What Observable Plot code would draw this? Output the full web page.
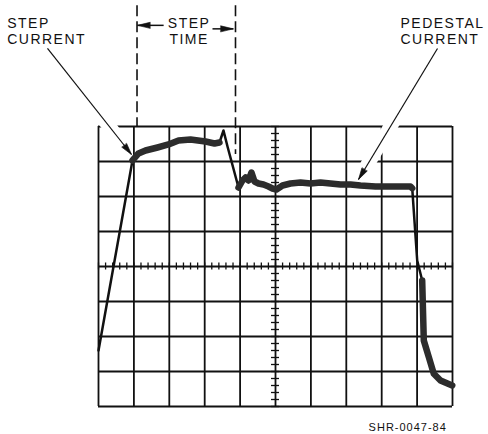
<!DOCTYPE html>
<html><head><meta charset="utf-8">
<script src="https://cdn.jsdelivr.net/npm/d3@7"></script>
<script src="https://cdn.jsdelivr.net/npm/@observablehq/plot@0.6"></script>
<style>
html,body{margin:0;padding:0;background:#fff;}
#chart svg text.lbl{letter-spacing:1.5px;}
#chart svg text.cap{letter-spacing:1px;}
</style></head><body><div id="chart"></div>
<script>
// Oscilloscope trace, in screen divisions (10 x 8)
const traceX = [0, 0.960, 1.130, 1.328, 1.667, 1.977, 2.260, 2.599, 3.023, 3.277, 3.418, 3.531, 3.644,
  3.955, 4.068, 4.153, 4.237, 4.322, 4.407, 4.520, 4.661, 4.802, 4.915, 5.028, 5.198, 5.424, 5.706,
  5.989, 6.271, 6.554, 6.836, 7.119, 7.401, 7.825, 8.249, 8.814, 8.862, 9.003, 9.144, 9.189, 9.331,
  9.472, 9.661, 9.992];
const traceY = [1.60, 7.029, 7.229, 7.314, 7.400, 7.486, 7.600, 7.629, 7.571, 7.514, 7.543, 7.886, 7.429,
  6.257, 6.457, 6.543, 6.457, 6.686, 6.429, 6.371, 6.343, 6.286, 6.229, 6.200, 6.314, 6.371, 6.400,
  6.371, 6.400, 6.371, 6.343, 6.343, 6.314, 6.286, 6.286, 6.286, 6.237, 4.171, 3.600, 1.886, 1.409,
  0.934, 0.743, 0.600];

const gridCols = [0, 1, 2, 3, 4, 5, 6, 7, 8, 9, 10];
const gridRows = [0, 1, 2, 3, 4, 5, 6, 7, 8];

const labelText = ["STEP\nCURRENT", "STEP\nTIME", "PEDESTAL\nCURRENT"];
const labelX = [-2.58, 2.56, 8.53];
const labelY = [11.13, 11.13, 11.13];

const leaderX1 = [-1.441, 9.576];
const leaderY1 = [10.229, 10.229];
const leaderX2 = [0.932, 7.345];
const leaderY2 = [7.200, 6.486];

const spanX1 = [1.84, 3.22];
const spanX2 = [1.10, 3.81];
const spanY = [10.89, 10.79];

const dashX = [1.088, 3.87];
const dashTop = [11.45, 11.45];
const dashBottom = [8.0, 7.2];

const captionText = "SHR-0047-84";
const captionX = 7.63, captionY = -0.486;

// ---- layout
const W = 488, H = 434, ML = 98, MR = 36, MT = 126, MB = 28;
const sx = (W - ML - MR) / 10, sy = (H - MT - MB) / 8;

const trace = traceX.map((x, i) => ({x, y: traceY[i]}));
const thickRanges = [[0.95, 3.43], [3.95, 8.87], [9.14, 10.01]];
const thick = [];
thickRanges.forEach((r, k) => trace.forEach(d => { if (d.x >= r[0] && d.x <= r[1]) thick.push({...d, seg: k}); }));

const leaders = leaderX1.map((x1, i) => ({x1, y1: leaderY1[i], x2: leaderX2[i], y2: leaderY2[i]}));
const haloFrac = [0.8, 0.9];
const halos = leaders.map((d, i) => ({x1: d.x1, y1: d.y1,
  x2: d.x1 + (d.x2 - d.x1) * haloFrac[i], y2: d.y1 + (d.y2 - d.y1) * haloFrac[i]}));
const spans = spanX1.map((x1, i) => ({x1, y1: spanY[i], x2: spanX2[i], y2: spanY[i]}));
const angle = d => Math.atan2((d.x2 - d.x1) * sx, (d.y2 - d.y1) * sy) * 180 / Math.PI;
const heads = [
  ...leaders.map(d => ({x: d.x2, y: d.y2, rotate: angle(d), length: 11})),
  ...spans.map(d => ({x: d.x2, y: d.y2, rotate: angle(d), length: 12}))
];
const dashes = dashX.map((x, i) => ({x, y1: dashTop[i], y2: dashBottom[i]}));
const labels = labelText.map((t, i) => ({text: t, x: labelX[i], y: labelY[i]}));

const minorX = d3.range(0, 10.001, 0.2);
const minorY = d3.range(0, 8.001, 0.2);
const tx = 4 / sx, ty = 3.5 / sy;

const spike = {
  draw(context, l, r) {
    context.moveTo(-r, 0);
    context.lineTo(0, -l);
    context.lineTo(r, 0);
    context.closePath();
  }
};

const ink = "#111";
const chart = Plot.plot({
  width: W, height: H,
  marginLeft: ML, marginRight: MR, marginTop: MT, marginBottom: MB,
  x: {domain: [0, 10], axis: null},
  y: {domain: [0, 8], axis: null},
  style: {background: "#fff", color: ink, fontFamily: "'Liberation Sans', Arial, Helvetica, sans-serif"},
  marks: [
    Plot.ruleX(gridCols, {x: d => d, y1: 0, y2: 8, stroke: ink, strokeWidth: 1.8}),
    Plot.ruleY(gridRows, {y: d => d, x1: 0, x2: 10, stroke: ink, strokeWidth: 1.8}),
    Plot.ruleX(minorX, {x: d => d, y1: 4 - ty, y2: 4 + ty, stroke: ink, strokeWidth: 1.3}),
    Plot.ruleY(minorY, {y: d => d, x1: 5 - tx, x2: 5 + tx, stroke: ink, strokeWidth: 1.3}),
    Plot.link(halos, {x1: "x1", y1: "y1", x2: "x2", y2: "y2", stroke: "#fff", strokeWidth: 14}),
    Plot.line(trace, {x: "x", y: "y", stroke: ink, strokeWidth: 2.5, strokeLinejoin: "round"}),
    Plot.line(thick, {x: "x", y: "y", z: "seg", stroke: "#2c2c2c", strokeWidth: 6.5, strokeLinejoin: "round", strokeLinecap: "round"}),
    Plot.ruleX(dashes, {x: "x", y1: "y1", y2: "y2", stroke: ink, strokeWidth: 1.6, strokeDasharray: "11,5"}),
    Plot.link(leaders, {x1: "x1", y1: "y1", x2: "x2", y2: "y2", stroke: ink, strokeWidth: 1.2}),
    Plot.link(spans, {x1: "x1", y1: "y1", x2: "x2", y2: "y2", stroke: ink, strokeWidth: 1.5}),
    Plot.vector(heads, {x: "x", y: "y", rotate: "rotate", length: "length", r: 3, anchor: "end", shape: spike, fill: ink, stroke: ink, strokeWidth: 0.6}),
    Plot.text(labels.filter((d, i) => i !== 1), {x: "x", y: "y", text: "text", textAnchor: "start", lineAnchor: "top", fontSize: 14, lineHeight: 1.13, fill: ink, className: "lbl"}),
    Plot.text(labels.filter((d, i) => i === 1), {x: "x", y: "y", text: "text", textAnchor: "middle", lineAnchor: "top", fontSize: 14, lineHeight: 1.13, fill: ink, className: "lbl"}),
    Plot.text([captionText], {x: captionX, y: captionY, text: d => d, textAnchor: "start", lineAnchor: "top", fontSize: 11, fill: ink, className: "cap"})
  ]
});
// className applies to the mark group; mirror it onto its text elements
chart.querySelectorAll("g.lbl text").forEach(t => t.classList.add("lbl"));
chart.querySelectorAll("g.cap text").forEach(t => t.classList.add("cap"));
document.getElementById("chart").appendChild(chart);
</script></body></html>
